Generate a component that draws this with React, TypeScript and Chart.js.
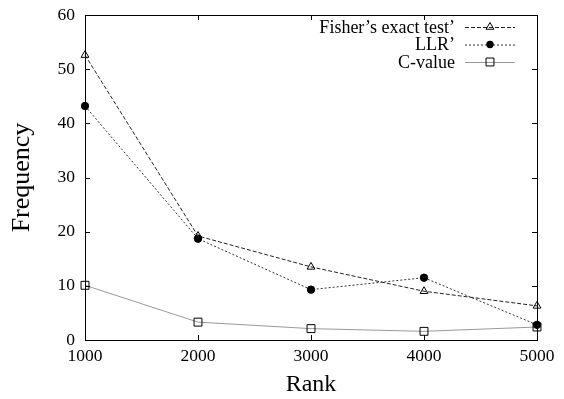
import React, { useEffect, useRef } from "react";
import { Chart, registerables } from "chart.js";

Chart.register(...registerables);

const ranks = [1000, 2000, 3000, 4000, 5000];
const fisherValues = [52.6, 19.2, 13.5, 9.0, 6.3];
const llrValues = [43.2, 18.7, 9.3, 11.5, 2.8];
const cValues = [10.1, 3.3, 2.1, 1.6, 2.4];
const seriesLabels = ["Fisher\u2019s exact test\u2019", "LLR\u2019", "C-value"];
const xTitle = "Rank";
const yTitle = "Frequency";

const FONT = "'Liberation Serif', 'DejaVu Serif', serif";

const framePlugin = {
  id: "gnuplotFrame",
  afterDraw(chart: any) {
    const ctx = chart.ctx;
    const { left, right, top, bottom } = chart.chartArea;
    const xs = chart.scales.x;
    const ys = chart.scales.y;
    ctx.save();
    ctx.strokeStyle = "#000";
    ctx.lineWidth = 1;
    ctx.setLineDash([]);
    ctx.strokeRect(left + 0.5, top + 0.5, right - left, bottom - top);
    const tl = 5;
    ctx.beginPath();
    xs.ticks.forEach((t: any) => {
      const px = Math.round(xs.getPixelForValue(t.value)) + 0.5;
      ctx.moveTo(px, bottom);
      ctx.lineTo(px, bottom - tl);
      ctx.moveTo(px, top);
      ctx.lineTo(px, top + tl);
    });
    ys.ticks.forEach((t: any) => {
      const py = Math.round(ys.getPixelForValue(t.value)) + 0.5;
      ctx.moveTo(left, py);
      ctx.lineTo(left + tl, py);
      ctx.moveTo(right, py);
      ctx.lineTo(right - tl, py);
    });
    ctx.stroke();

    // legend
    const textRight = 455;
    const lineStart = 465;
    const lineEnd = 515;
    const mid = (lineStart + lineEnd) / 2;
    const rowY = [27, 44.5, 62];
    ctx.font = "18px " + FONT;
    ctx.textAlign = "right";
    ctx.textBaseline = "middle";
    chart.data.datasets.forEach((ds: any, i: number) => {
      const y = rowY[i];
      ctx.fillStyle = "#000";
      ctx.fillText(ds.label, textRight, y + 1);
      ctx.beginPath();
      ctx.strokeStyle = ds.borderColor;
      ctx.lineWidth = ds.borderWidth;
      ctx.setLineDash(ds.borderDash || []);
      ctx.moveTo(lineStart, y + 0.5);
      ctx.lineTo(lineEnd, y + 0.5);
      ctx.stroke();
      ctx.setLineDash([]);
      ctx.strokeStyle = "#000";
      ctx.lineWidth = 1;
      const r = ds.pointRadius;
      ctx.beginPath();
      if (ds.pointStyle === "triangle") {
        ctx.moveTo(mid, y - r);
        ctx.lineTo(mid + r * 0.87, y + r * 0.5);
        ctx.lineTo(mid - r * 0.87, y + r * 0.5);
        ctx.closePath();
        ctx.stroke();
      } else if (ds.pointStyle === "circle") {
        ctx.arc(mid, y, r, 0, Math.PI * 2);
        ctx.fillStyle = "#000";
        ctx.fill();
      } else {
        const s = r * Math.SQRT1_2;
        ctx.rect(mid - s, y - s, 2 * s, 2 * s);
        ctx.stroke();
      }
    });
    ctx.restore();
  },
};

export default function App() {
  const ref = useRef<HTMLCanvasElement | null>(null);
  useEffect(() => {
    document.body.style.margin = "0";
    const canvas = ref.current;
    if (!canvas) return;
    const mk = (vals: number[]) => vals.map((v, i) => ({ x: ranks[i], y: v }));
    const chart = new Chart(canvas, {
      type: "line",
      data: {
        datasets: [
          {
            label: seriesLabels[0],
            data: mk(fisherValues),
            borderColor: "#222",
            borderWidth: 1,
            borderDash: [4, 2],
            pointStyle: "triangle",
            pointRadius: 4.5,
            pointBorderColor: "#000",
            pointBackgroundColor: "rgba(0,0,0,0)",
            pointBorderWidth: 1,
            tension: 0,
            clip: false,
          },
          {
            label: seriesLabels[1],
            data: mk(llrValues),
            borderColor: "#333",
            borderWidth: 1,
            borderDash: [2, 2],
            pointStyle: "circle",
            pointRadius: 3.7,
            pointBorderColor: "#000",
            pointBackgroundColor: "#000",
            pointBorderWidth: 1,
            tension: 0,
            clip: false,
          },
          {
            label: seriesLabels[2],
            data: mk(cValues),
            borderColor: "#999",
            borderWidth: 1,
            borderDash: [],
            pointStyle: "rect",
            pointRadius: 5.6,
            pointBorderColor: "#000",
            pointBackgroundColor: "rgba(0,0,0,0)",
            pointBorderWidth: 1,
            tension: 0,
            clip: false,
          },
        ],
      } as any,
      options: {
        animation: false,
        responsive: false,
        maintainAspectRatio: false,
        layout: { padding: { top: 15, right: 27, left: 0, bottom: 0 } },
        plugins: { legend: { display: false }, tooltip: { enabled: false } },
        scales: {
          x: {
            type: "linear",
            min: 1000,
            max: 5000,
            ticks: {
              stepSize: 1000,
              color: "#000",
              font: { family: FONT, size: 17.5 },
              padding: 6,
              maxRotation: 0,
              callback: (v: any) => String(v),
            },
            grid: { display: false, drawTicks: false },
            border: { display: false },
            title: {
              display: true,
              text: xTitle,
              color: "#000",
              font: { family: FONT, size: 24 },
              padding: { top: 0, bottom: 0 },
            },
            afterFit: (s: any) => {
              s.height = 59;
              s.paddingLeft = 0;
              s.paddingRight = 0;
            },
          },
          y: {
            type: "linear",
            min: 0,
            max: 60,
            ticks: {
              stepSize: 10,
              color: "#000",
              font: { family: FONT, size: 17.5 },
              padding: 10,
            },
            grid: { display: false, drawTicks: false },
            border: { display: false },
            title: {
              display: true,
              text: yTitle,
              color: "#000",
              font: { family: FONT, size: 26 },
              padding: { top: 7, bottom: 0 },
            },
            afterFit: (s: any) => {
              s.width = 85;
              s.paddingTop = 0;
              s.paddingBottom = 0;
            },
          },
        },
      } as any,
      plugins: [framePlugin],
    });
    return () => chart.destroy();
  }, []);
  return (
    <div style={{ width: 564, height: 399 }}>
      <canvas ref={ref} width={564} height={399} style={{ width: 564, height: 399 }} />
    </div>
  );
}
